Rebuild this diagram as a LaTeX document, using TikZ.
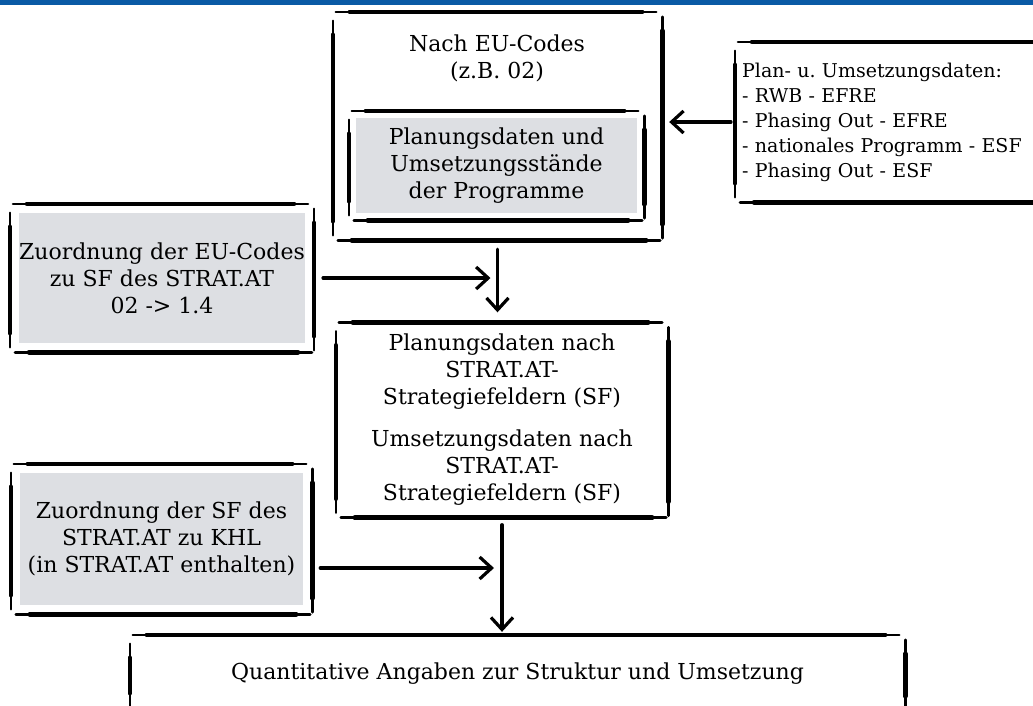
\documentclass[tikz,border=0pt]{standalone}
\usepackage{fontspec}
\setmainfont{DejaVu Serif}
\usetikzlibrary{arrows.meta}
\frenchspacing

\definecolor{boxgray}{RGB}{221,223,227}
\definecolor{topblue}{RGB}{10,90,165}

% one loose stroke, thicker in the middle
\newcommand{\stroke}[2]{%
  \draw [sketch] #1 -- #2;
  \draw [sketch, line width=4.6pt, shorten <=14pt, shorten >=14pt] #1 -- #2;
}
% four loose strokes round a node, #2 = gap to the node
\newcommand{\sketchbox}[2]{%
  \stroke{([xshift=-#2+3pt, yshift=#2]#1.north west)}{([xshift=#2-6pt, yshift=#2]#1.north east)}
  \stroke{([xshift=-#2, yshift=#2-9pt]#1.north west)}{([xshift=-#2, yshift=-#2+5pt]#1.south west)}
  \stroke{([xshift=#2, yshift=#2-5pt]#1.north east)}{([xshift=#2, yshift=-#2+2pt]#1.south east)}
  \stroke{([xshift=-#2+5pt, yshift=-#2]#1.south west)}{([xshift=#2-2pt, yshift=-#2]#1.south east)}
}

\begin{document}
\begin{tikzpicture}[x=1pt, y=-1pt, every node/.style={align=center, inner sep=0pt, font=\fontsize{22}{27}\selectfont},
  sketch/.style={line width=2.6pt, line cap=round},
  arr/.style={line width=3.2pt, line cap=round, -{Straight Barb[length=12pt, width=22pt]}},
  gray/.style={fill=boxgray}]

  \useasboundingbox (0,0) rectangle (1033,705);
  \clip (0,0) rectangle (1033,705);
  \fill [topblue] (0,0) rectangle (1033,5);

  \node [minimum width=329pt, minimum height=228pt] (N) at (497.5,126) {};
  \node (Nt) at (497,58) {Nach EU-Codes\\(z.B. 02)};
  \node [gray, minimum width=281pt, minimum height=95pt] (P) at (496.5,165.5) {Planungsdaten und\\Umsetzungsstände\\der Programme};

  \node [anchor=west, text width=330pt, align=left, inner xsep=7pt, minimum height=160pt, font=\fontsize{19}{25}\selectfont] (U) at (735,122)
  {Plan- u. Umsetzungsdaten:\\- RWB - EFRE\\- Phasing Out - EFRE\\- nationales Programm - ESF\\- Phasing Out - ESF};

  \node [gray, minimum width=280pt, minimum height=130pt] (Z) at (162,278) {Zuordnung der EU-Codes\\zu SF des STRAT.AT\\02 -> 1.4};

  \node [minimum width=332pt, minimum height=195pt] (S) at (502,420)
  {Planungsdaten nach\\STRAT.AT-\\Strategiefeldern (SF)\\[15pt]Umsetzungsdaten nach\\STRAT.AT-\\Strategiefeldern (SF)};

  \node [gray, minimum width=283pt, minimum height=132pt] (K) at (161.5,539) {Zuordnung der SF des\\STRAT.AT zu KHL\\(in STRAT.AT enthalten)};

  \node [minimum width=775pt, minimum height=77pt] (Q) at (517.5,673.5) {Quantitative Angaben zur Struktur und Umsetzung};

  \sketchbox{N}{0pt}
  \sketchbox{P}{7pt}
  \sketchbox{U}{0pt}
  \sketchbox{Z}{9pt}
  \sketchbox{S}{0pt}
  \sketchbox{K}{9pt}
  \sketchbox{Q}{0pt}

  \draw [arr] ([xshift=-4pt]U.west) -- ([xshift=7pt]N.east |- U.west);
  \draw [arr] ([yshift=-9pt]N.south) -- ([yshift=10pt]N.south |- S.north);
  \draw [arr] ([xshift=18pt]Z.east) -- ([xshift=-7pt]Z.east -| N.south);
  \draw [arr] ([yshift=-7pt]S.south) -- ([yshift=3pt]S.south |- Q.north);
  \draw [arr] ([xshift=17pt, yshift=-29pt]K.east) -- ([xshift=-8pt, yshift=-29pt]K.east -| S.south);

\end{tikzpicture}
\end{document}
